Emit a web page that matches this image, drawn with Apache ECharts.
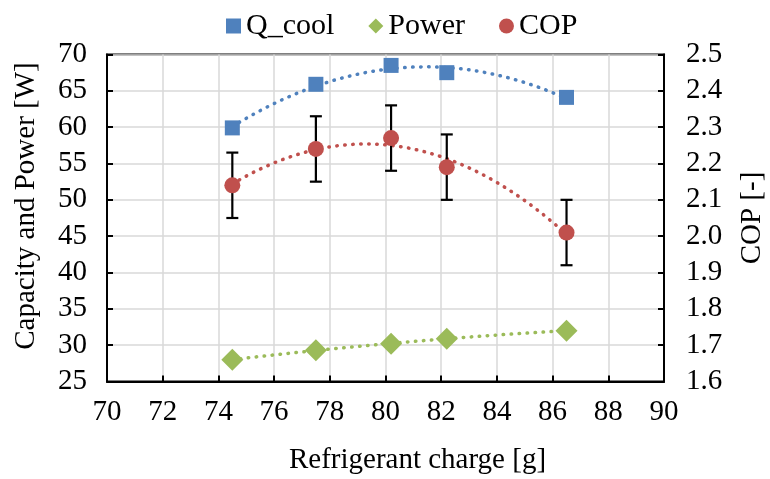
<!DOCTYPE html>
<html><head><meta charset="utf-8">
<script src="https://cdn.jsdelivr.net/npm/echarts@6/dist/echarts.min.js"></script>
<style>html,body{margin:0;padding:0;background:#fff}#c{width:770px;height:479px}</style>
</head><body><div id="c"></div>
<script>
// ---- data ----
const charge = [74.5, 77.5, 80.2, 82.2, 86.5];
const qCool  = [59.9, 65.9, 68.5, 67.5, 64.1];
const power  = [28.0, 29.3, 30.2, 30.9, 32.0];
const cop    = [2.14, 2.24, 2.27, 2.19, 2.01];
const copErr = [0.09, 0.09, 0.09, 0.09, 0.09];
const seriesNames = ['Q_cool', 'Power', 'COP'];

// ---- styling ----
const FONT = 'Liberation Serif, Times New Roman, serif';
const FS = 29;
const FS_LEG = 30;
const BLUE = '#4F81BD', GREEN = '#9BBB59', RED = '#C0504D';

// least-squares quadratic trendline (like spreadsheet trendline) from the data
function quadTrend(xs, ys, n) {
  const m = xs.reduce((a, b) => a + b, 0) / xs.length;
  const S = [0, 0, 0, 0, 0], T = [0, 0, 0];
  xs.forEach((x, i) => {
    const u = x - m;
    for (let k = 0; k < 5; k++) S[k] += Math.pow(u, k);
    for (let k = 0; k < 3; k++) T[k] += ys[i] * Math.pow(u, k);
  });
  const A = [[S[0], S[1], S[2], T[0]], [S[1], S[2], S[3], T[1]], [S[2], S[3], S[4], T[2]]];
  for (let i = 0; i < 3; i++) {
    for (let j = i + 1; j < 3; j++) {
      const f = A[j][i] / A[i][i];
      for (let k = i; k < 4; k++) A[j][k] -= f * A[i][k];
    }
  }
  const c = [0, 0, 0];
  for (let i = 2; i >= 0; i--) {
    let s = A[i][3];
    for (let k = i + 1; k < 3; k++) s -= A[i][k] * c[k];
    c[i] = s / A[i][i];
  }
  const x0 = Math.min(...xs), x1 = Math.max(...xs), out = [];
  for (let i = 0; i <= n; i++) {
    const x = x0 + (x1 - x0) * i / n, u = x - m;
    out.push([x, c[0] + c[1] * u + c[2] * u * u]);
  }
  return out;
}

const zip = (a, b) => a.map((v, i) => [v, b[i]]);
const dotted = (color) => ({ color: color, width: 3.5, type: [0.5, 7.5], cap: 'round', opacity: 1 });
const trend = (data, color, yi) => ({
  type: 'line', data: data, yAxisIndex: yi, showSymbol: false, symbol: 'none',
  smooth: false, lineStyle: dotted(color), z: 1, silent: true, animation: false
});

const chart = echarts.init(document.getElementById('c'), null, { renderer: 'canvas' });
const txt = { color: '#000', fontFamily: FONT, fontSize: FS, fontWeight: 'normal' };
const axisLabel = (margin, fmt) => Object.assign({ margin: margin, formatter: fmt }, txt);
const axisCommon = {
  axisLine: { show: true, lineStyle: { color: '#000', width: 2 } },
  axisTick: { show: true, inside: true, length: 6, lineStyle: { color: '#000', width: 2 } },
  nameLocation: 'middle',
  nameTextStyle: Object.assign({}, txt)
};

chart.setOption({
  animation: false,
  backgroundColor: '#fff',
  textStyle: Object.assign({}, txt),
  legend: {
    top: 6, left: 221, itemGap: 34, itemWidth: 15, itemHeight: 15,
    textStyle: Object.assign({}, txt, { fontSize: FS_LEG }),
    data: [
      { name: seriesNames[0], icon: 'rect' },
      { name: seriesNames[1], icon: 'diamond' },
      { name: seriesNames[2], icon: 'circle' }
    ]
  },
  grid: {
    left: 107, right: 106, top: 54.5, bottom: 97.5, containLabel: false, outerBoundsMode: 'none',
    show: true, borderColor: '#000', borderWidth: 2
  },
  xAxis: Object.assign({}, axisCommon, {
    type: 'value', min: 70, max: 90, interval: 2,
    name: 'Refrigerant charge [g]', nameGap: 64,
    nameTextStyle: Object.assign({}, txt, { padding: [0, 0, 0, 64] }),
    axisLabel: axisLabel(16, v => String(v)),
    splitLine: { show: true, lineStyle: { color: '#d9d9d9', width: 1.5 } }
  }),
  yAxis: [
    Object.assign({}, axisCommon, {
      type: 'value', min: 25, max: 70, interval: 5, position: 'left',
      name: 'Capacity and Power [W]', nameGap: 66,
      nameTextStyle: Object.assign({}, txt, { padding: [0, 0, 0, 24] }),
      axisLabel: axisLabel(20, v => String(v)),
      splitLine: { show: true, lineStyle: { color: '#d9d9d9', width: 1.5 } }
    }),
    Object.assign({}, axisCommon, {
      type: 'value', min: 1.6, max: 2.5, interval: 0.1, position: 'right',
      name: 'COP [-]', nameGap: 74,
      axisLabel: axisLabel(22, v => v.toFixed(1)),
      splitLine: { show: false }
    })
  ],
  series: [
    trend(quadTrend(charge, qCool, 80), BLUE, 0),
    trend(quadTrend(charge, power, 80), GREEN, 0),
    trend(quadTrend(charge, cop, 80), RED, 1),
    {
      type: 'custom', yAxisIndex: 1, z: 2, silent: true,
      data: charge.map((x, i) => [x, cop[i] - copErr[i], cop[i] + copErr[i]]),
      renderItem: function (params, api) {
        const lo = api.coord([api.value(0), api.value(1)]);
        const hi = api.coord([api.value(0), api.value(2)]);
        const hw = 6;
        const st = { stroke: '#000', lineWidth: 2.2, fill: null };
        return {
          type: 'group', children: [
            { type: 'line', shape: { x1: lo[0], y1: lo[1], x2: hi[0], y2: hi[1] }, style: st },
            { type: 'line', shape: { x1: lo[0] - hw, y1: lo[1], x2: lo[0] + hw, y2: lo[1] }, style: st },
            { type: 'line', shape: { x1: hi[0] - hw, y1: hi[1], x2: hi[0] + hw, y2: hi[1] }, style: st }
          ]
        };
      }
    },
    { name: seriesNames[0], type: 'scatter', yAxisIndex: 0, data: zip(charge, qCool), symbol: 'rect', symbolSize: 15, itemStyle: { color: BLUE, opacity: 1 }, z: 3 },
    { name: seriesNames[1], type: 'scatter', yAxisIndex: 0, data: zip(charge, power), symbol: 'diamond', symbolSize: 22, itemStyle: { color: GREEN, opacity: 1 }, z: 3 },
    { name: seriesNames[2], type: 'scatter', yAxisIndex: 1, data: zip(charge, cop), symbol: 'circle', symbolSize: 16, itemStyle: { color: RED, opacity: 1 }, z: 3 }
  ]
});
</script>
</body></html>
